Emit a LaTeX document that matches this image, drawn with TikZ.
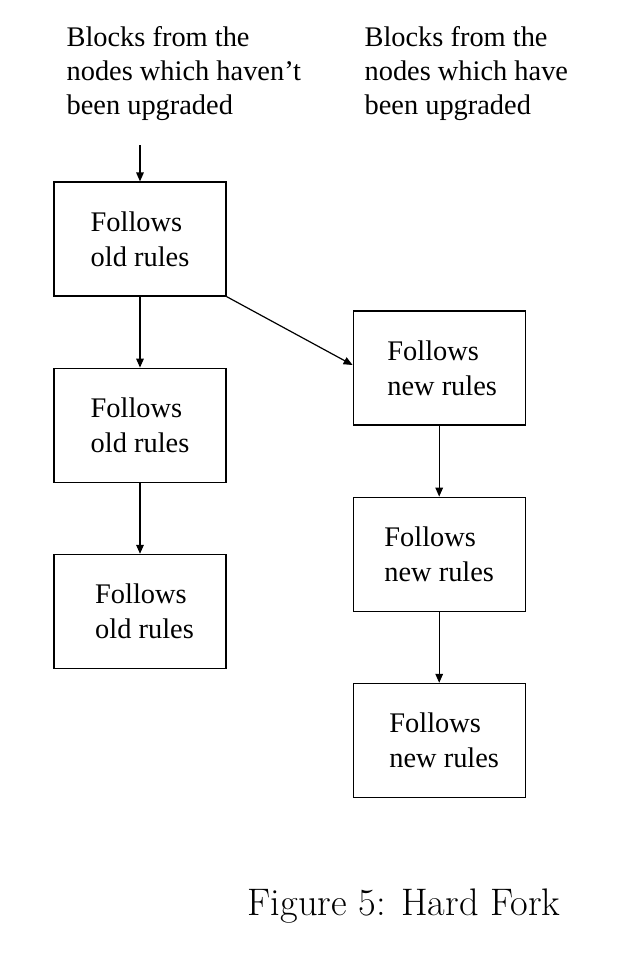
\documentclass[tikz,border=0pt]{standalone}
\usepackage{fontspec}
\newfontfamily\timesfont{Liberation Serif}
\usetikzlibrary{positioning,arrows.meta}

\begin{document}
\begin{tikzpicture}[x=0.5pt, y=-0.5pt, >={Triangle[length=4.5pt,width=3.8pt]}, node distance=35.5pt and 63pt, every path/.append style={line width=0.6pt}, block/.style={draw, minimum width=86pt, minimum height=57pt, align=left, inner sep=0pt, font=\timesfont\fontsize{14.2}{17.5}\selectfont}, head/.style={align=left, inner sep=0pt, font=\timesfont\fontsize{14.2}{17}\selectfont}]

\useasboundingbox (0,0) rectangle (624,960);

\node[head, anchor=north west] (hold) at (66,26) {Blocks from the\\nodes which haven’t\\been upgraded};
\node[head, anchor=north west] (hnew) at (364,26) {Blocks from the\\nodes which have\\been upgraded};

\node[block] (o1) at (140,239) {Follows\\old rules};
\node[block] (o2) [below=of o1] {Follows\\old rules};
\node[block] (o3) [below=of o2] {\hspace*{4.5pt}Follows\\\hspace*{4.5pt}old rules};
\node[block] (n1) [right=of o1, yshift=-64.5pt] {\hspace*{3pt}Follows\\\hspace*{3pt}new rules};
\node[block] (n2) [below=of n1] {Follows\\new rules};
\node[block] (n3) [below=of n2] {\hspace*{5pt}Follows\\\hspace*{5pt}new rules};

\coordinate (in) at ([yshift=18pt]o1.north);

\draw[->] (in) -- (o1);
\draw[->] (o1) -- (o2);
\draw[->] (o2) -- (o3);
\draw[->] (n1) -- (n2);
\draw[->] (n2) -- (n3);
\draw[->] (o1.south east) -- ([yshift=1.5pt]n1.west);

\node[font=\fontsize{19.2}{22}\selectfont, anchor=base] (cap) at (404,915) {Figure 5: Hard Fork};
\end{tikzpicture}
\end{document}
